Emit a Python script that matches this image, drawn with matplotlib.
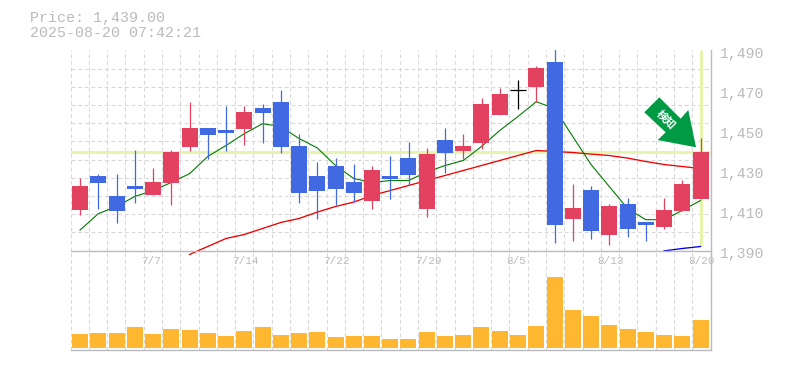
#!/usr/bin/env python

import matplotlib.pyplot as plt
import numpy as np
from matplotlib.patches import Polygon
from matplotlib.transforms import ScaledTranslation

W, H = 785., 370.

# candles: open, close, high, low
opens = [1410, 1427, 1417, 1422, 1417.5, 1423.5, 1441.5, 1451, 1450, 1450.5, 1461, 1464, 1442,
         1427, 1432, 1424, 1414.5, 1427, 1436, 1410.5, 1445, 1439.5, 1443.5, 1457.5, 1470, 1471.5, 1484,
         1405.5, 1420, 1397.5, 1413, 1404, 1401.5, 1409.5, 1415.5]
closes = [1422, 1423.5, 1409.5, 1420.5, 1424, 1439, 1451, 1447.5, 1448.5, 1459, 1458.5, 1441.5, 1418.5,
          1419.5, 1420.5, 1418.5, 1430, 1425.5, 1427.5, 1438, 1438.5, 1442, 1463, 1468, 1470, 1481, 1402.5,
          1411, 1399.5, 1412, 1400.5, 1402.5, 1410, 1423, 1439]
highs = [1426, 1428, 1428, 1440, 1431, 1440, 1464, 1451, 1462, 1462, 1463, 1470, 1448,
         1434, 1436, 1433, 1432, 1437, 1444, 1441, 1451, 1448, 1466, 1471, 1475, 1482, 1492,
         1423, 1422, 1413, 1416, 1404, 1416, 1425, 1446]
lows = [1407.5, 1410.5, 1403.5, 1413.5, 1417.5, 1412.5, 1439.5, 1435.5, 1439.5, 1442.5, 1443.5, 1438.5, 1413.5,
        1405.5, 1412.5, 1414, 1410.5, 1415.5, 1422.5, 1406.5, 1428.5, 1435.5, 1440.5, 1457.5, 1460.5, 1464, 1393.5,
        1394.5, 1395.5, 1392.5, 1396.5, 1394.5, 1400.5, 1409.5, 1415.5]

ma_short = [1400.2, 1408.4, 1412, 1417, 1420, 1424, 1428.4, 1437, 1442.5, 1448.4, 1453.4, 1452, 1446,
            1441.3, 1432.5, 1426, 1424, 1425, 1425, 1429.2, 1432.5, 1435, 1442, 1450, 1457, 1464.4, 1461,
            1447, 1433, 1422, 1411, 1405.4, 1405.4, 1410, 1415]
ma_mid_x = list(range(6, 35))
ma_mid = [1388, 1392, 1396, 1398, 1401, 1404, 1406, 1409.2, 1412, 1414.2, 1417.5, 1420, 1422.5, 1425, 1427.5,
          1430, 1432.5, 1435, 1437.5, 1440, 1439.5, 1439, 1438.2, 1437.5, 1436.2, 1434.5, 1433, 1432, 1431]
ma_long_x = [32, 33, 34]
ma_long = [1389.8, 1391, 1392]

volumes = [42, 45, 45, 63, 42, 57, 54, 45, 36, 51, 63, 39, 45, 48, 33, 36, 36, 27,
           27, 48, 36, 39, 63, 51, 39, 66, 213, 114, 96, 69, 57, 48, 39, 36, 84]

date_ticks = [4, 9, 14, 19, 24, 29, 34]
date_labels = ['7/7', '7/14', '7/22', '7/29', '8/5', '8/13', '8/20']
price_ticks = [1390, 1410, 1430, 1450, 1470, 1490]
last_price = 1439

price_text = 'Price: 1,439.00'
time_text = '2025-08-20 07:42:21'
arrow_text = '検知'

up_col = '#e2425f'
down_col = '#4169e1'
vol_col = '#ffb732'
grid_col = '#d8d8d8'
axis_col = '#bbbbbb'
mark_col = '#e6f5ae'
mono = 'Liberation Mono'

x_step = 18.25
x_lim = [-(80. - 70.5) / x_step, 34 + (710.5 - 700.5) / x_step]


def add_axes_px(x0, y0, x1, y1):
    return fig.add_axes([x0 / W, 1 - y1 / H, (x1 - x0) / W, (y1 - y0) / H])


fig = plt.figure(figsize=(W / 100, H / 100), dpi=100)

ax = add_axes_px(70.5, 50, 710.5, 250.5)
ax_vol = add_axes_px(70.5, 250.5, 710.5, 350)
ax_vol.patch.set_visible(False)  # the moving averages run a little below the price panel

grid_x = np.linspace(x_lim[0], x_lim[1], 36)
dash = dict(color=grid_col, linewidth=0.8, linestyle=(0, (3.5, 2.5)))

for a in (ax, ax_vol):
    a.set_xlim(x_lim)
    a.set_xticks(grid_x)
    a.set_xticklabels([])
    a.tick_params(axis='x', length=0)
    a.xaxis.grid(True, **dash)
    a.set_axisbelow(True)
    a.spines['top'].set_visible(False)
    a.spines['left'].set_visible(False)
    for side in ('right', 'bottom'):
        a.spines[side].set_color(axis_col)
        a.spines[side].set_linewidth(1.0)

# price panel
ax.set_ylim(1390, 1490.25)
ax.yaxis.tick_right()
ax.set_yticks(price_ticks)
ax.set_yticklabels(['{:,}'.format(p) for p in price_ticks], family=mono, fontsize=10.6, color=axis_col)
ax.set_yticks(np.linspace(1390, 1490, 12)[1:], minor=True)
ax.tick_params(axis='y', which='both', length=0, pad=6.5)
ax.yaxis.grid(True, which='minor', **dash)
shift = ScaledTranslation(0, -2.2 / 100., fig.dpi_scale_trans)
for label in ax.get_yticklabels():
    label.set_transform(label.get_transform() + shift)

ax.axhline(last_price, color=mark_col, linewidth=2.2, zorder=1)
ax.plot([34, 34], [1392, 1490], color=mark_col, linewidth=2.2, zorder=1, solid_capstyle='butt')

ax.plot(range(len(ma_short)), ma_short, color='#007a00', linewidth=0.8, zorder=2)
ax.plot(ma_mid_x, ma_mid, color='#f00000', linewidth=0.95, zorder=2, clip_on=False)
ax.plot(ma_long_x, ma_long, color='#0000ee', linewidth=0.95, zorder=2, clip_on=False)

for i in range(len(opens)):
    if closes[i] > opens[i]:
        col = up_col
    elif closes[i] < opens[i]:
        col = down_col
    else:
        col = 'black'
    ax.vlines(i, lows[i], highs[i], color=col, linewidth=0.9, zorder=3, snap=True)
    if col == 'black':
        ax.hlines(opens[i], i - 8 / x_step, i + 8 / x_step, color=col, linewidth=0.9, zorder=3, snap=True)
    else:
        ax.bar(i, abs(closes[i] - opens[i]), bottom=min(opens[i], closes[i]), width=16 / x_step,
               color=col, zorder=3)

# volume panel, one unit is a third of a pixel
ax_vol.set_ylim(-6, 292.5)
ax_vol.set_yticks([])
ax_vol.bar(range(len(volumes)), volumes, width=16 / x_step, color=vol_col, zorder=3)

# date labels start at a fixed offset left of their candle
for i, label in zip(date_ticks, date_labels):
    ax_vol.text(i - 12 / x_step, 292.5 - 11 * 3, label, family=mono, fontsize=7.9, color=axis_col,
                ha='left', va='center', zorder=5, clip_on=False)

# header
fig.text(30 / W, 1 - 18 / H, price_text, family=mono, fontsize=10.8, color=axis_col, va='center')
fig.text(30 / W, 1 - 33 / H, time_text, family=mono, fontsize=10.8, color=axis_col, va='center')

# signal arrow
arrow_px = np.array([(644.3, 112.3), (659.3, 97.3), (680.7, 118.7), (688.3, 110), (696, 147.3),
                     (657.7, 140), (665.7, 132.3)])
arrow_fig = np.column_stack([arrow_px[:, 0] / W, 1 - arrow_px[:, 1] / H])
fig.add_artist(Polygon(arrow_fig, closed=True, transform=fig.transFigure, facecolor='#009a44',
                       edgecolor='none', zorder=6))
fig.text(666.5 / W, 1 - 119.5 / H, arrow_text, family=['Noto Sans CJK JP', 'DejaVu Sans'], fontsize=8,
         fontweight='bold', color='white', rotation=-45, ha='center', va='center', zorder=7)

fig.savefig('out.png', dpi=100)
